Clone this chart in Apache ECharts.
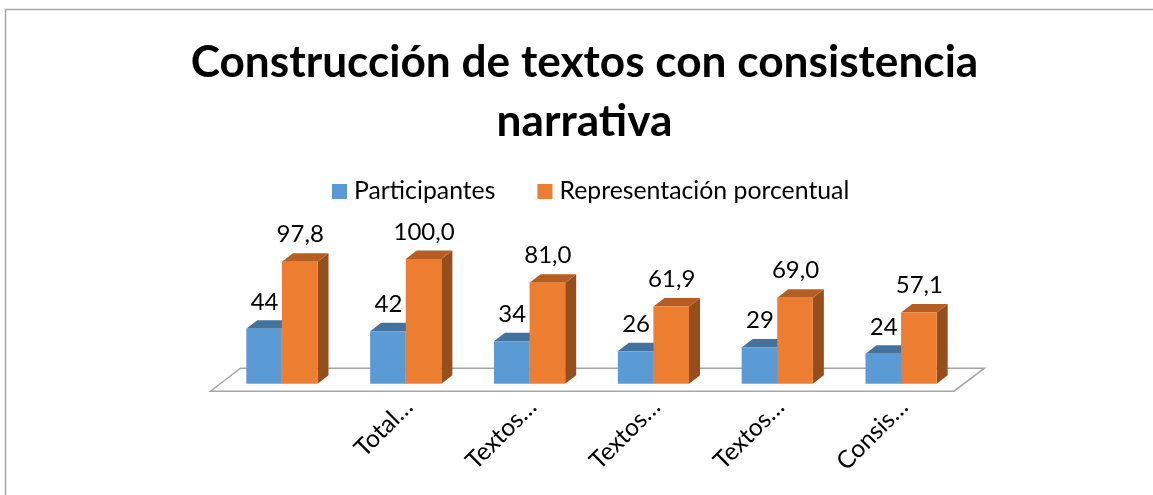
<!DOCTYPE html>
<html>
<head>
<meta charset="utf-8">
<title>Construcción de textos con consistencia narrativa</title>
<style>
  html, body { margin: 0; padding: 0; background: #ffffff; }
  #chart { width: 1153px; height: 495px; }
</style>
<script src="https://cdn.jsdelivr.net/npm/echarts@6/dist/echarts.min.js"></script>
</head>
<body>
<div id="chart"></div>
<script>
const titleText = 'Construcción de textos con consistencia\nnarrativa'
const categories = ['', 'Total…', 'Textos…', 'Textos…', 'Textos…', 'Consis…']
const participantes = [44, 42, 34, 26, 29, 24]
const porcentual = [97.8, 100.0, 81.0, 61.9, 69.0, 57.1]

const fontName = 'Lato'
const depthX = 11 // depth of the fake 3d box
const depthY = 8.5
const barRatio = 0.2875

// side: -1 bar left of the category centre, 0 right of it
function box3d(side, colors, decimals) {
  return function (params, api) {
    const idx = api.value(0)
    const val = api.value(1)
    const top = api.coord([idx, val])
    const base = api.coord([idx, 0])
    const w = api.size([1, 0])[0] * barRatio
    const x = top[0] + side * w
    const pts = {
      front: [[x, top[1]], [x + w, top[1]], [x + w, base[1]], [x, base[1]]],
      up: [[x, top[1]], [x + depthX, top[1] - depthY], [x + w + depthX, top[1] - depthY], [x + w, top[1]]],
      right: [[x + w, top[1]], [x + w + depthX, top[1] - depthY], [x + w + depthX, base[1] - depthY], [x + w, base[1]]]
    }
    const txt = decimals ? val.toFixed(decimals).replace('.', ',') : String(val)
    return {
      type: 'group',
      children: [
        { type: 'polygon', shape: { points: pts.right }, style: { fill: colors.side } },
        { type: 'polygon', shape: { points: pts.up }, style: { fill: colors.top } },
        { type: 'polygon', shape: { points: pts.front }, style: { fill: colors.front } },
        {
          type: 'text',
          style: {
            text: txt,
            x: x + w / 2 + 0.5,
            y: top[1] - 27,
            align: 'center',
            verticalAlign: 'middle',
            fontFamily: fontName,
            fontSize: 24,
            fill: '#000000'
          }
        }
      ]
    }
  }
}

// floor plate, built from the first and last category bands
function floorItem(params, api) {
  const band = api.size([1, 0])[0]
  const y0 = api.coord([0, 0])[1]
  const l = api.coord([0, 0])[0] - band / 2
  const r = api.coord([categories.length - 1, 0])[0] + band / 2
  const front = y0 + 7.5
  const back = y0 - 15.5
  return {
    type: 'polygon',
    shape: { points: [[l - 9.5, front], [r - 9, front], [r + 21.5, back], [l + 20.5, back]] },
    style: { fill: '#ffffff', stroke: '#a6a6a6', lineWidth: 1.5 },
    silent: true
  }
}

const chart = echarts.init(document.getElementById('chart'))
chart.setOption({
  backgroundColor: '#ffffff',
  animation: false,
  title: {
    text: titleText,
    left: 579.5,
    top: 28,
    textAlign: 'center',
    textStyle: { fontFamily: fontName, fontSize: 44.2, fontWeight: 'bold', color: '#000000', lineHeight: 59 }
  },
  legend: {
    data: ['Participantes', 'Representación porcentual'],
    top: 174,
    left: 327,
    itemWidth: 15,
    itemHeight: 15,
    itemGap: 42,
    icon: 'rect',
    textStyle: { fontFamily: fontName, fontSize: 24.8, color: '#000000', padding: [0, 0, 0, 2] }
  },
  graphic: [{
    type: 'rect',
    silent: true,
    z: -1,
    shape: { x: 5.5, y: 9.5, width: 1300, height: 700 },
    style: { fill: 'none', stroke: '#a6a6a6', lineWidth: 1.5 }
  }],
  grid: { left: 220, top: 259, width: 743, height: 124.7 },
  xAxis: {
    type: 'category',
    data: categories,
    axisLine: { show: false },
    axisTick: { show: false },
    axisLabel: {
      interval: 0,
      rotate: 45,
      margin: 22,
      padding: [0, -4, 0, 0],
      fontFamily: fontName,
      fontSize: 24.5,
      color: '#000000'
    }
  },
  yAxis: { type: 'value', min: 0, max: 100, show: false, splitLine: { show: false } },
  series: [
    {
      name: 'floor',
      type: 'custom',
      renderItem: floorItem,
      data: [[0, 0]],
      silent: true,
      z: 1
    },
    {
      name: 'Participantes',
      type: 'custom',
      renderItem: box3d(-1, { front: '#5b9bd5', top: '#44729f', side: '#3f6f9e' }, 0),
      itemStyle: { color: '#5b9bd5' },
      encode: { x: 0, y: 1 },
      data: participantes.map((v, i) => [i, v]),
      z: 2
    },
    {
      name: 'Representación porcentual',
      type: 'custom',
      renderItem: box3d(0, { front: '#ed7d31', top: '#b65e22', side: '#964f1c' }, 1),
      itemStyle: { color: '#ed7d31' },
      encode: { x: 0, y: 1 },
      data: porcentual.map((v, i) => [i, v]),
      z: 3
    }
  ]
})
</script>
</body>
</html>
